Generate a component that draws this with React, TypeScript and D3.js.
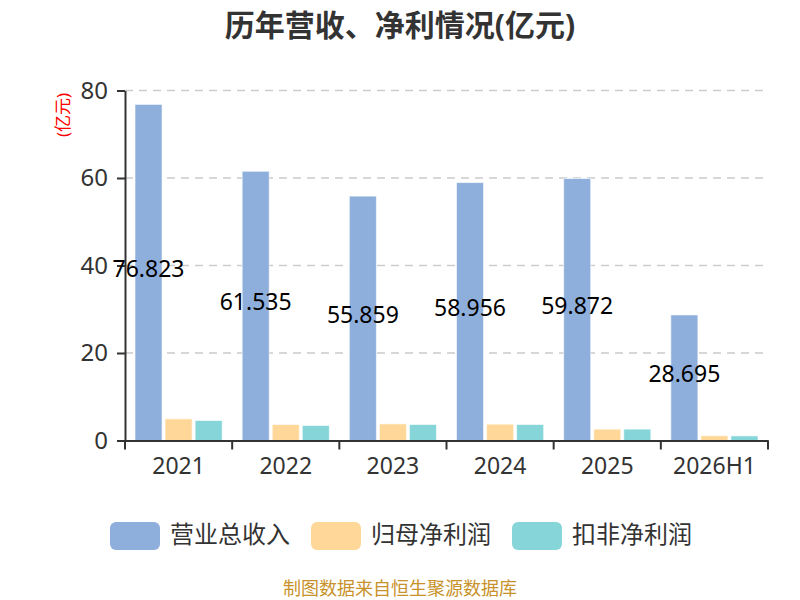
import { useEffect, useRef } from 'react';
import * as d3 from 'd3';

const categories = ['2021', '2022', '2023', '2024', '2025', '2026H1'];
const seriesNames = ['营业总收入', '归母净利润', '扣非净利润'];
const revenue = [76.823, 61.535, 55.859, 58.956, 59.872, 28.695];
const netProfit = [4.96, 3.66, 3.8, 3.73, 2.6, 1.1];
const deductedProfit = [4.57, 3.43, 3.66, 3.66, 2.6, 1.05];
const yTicks = [0, 20, 40, 60, 80];

const COLORS = ['#8eaedb', '#ffd899', '#86d5d8'];
const FONT = '"Noto Sans", "Noto Sans CJK SC", sans-serif';
const WIDTH = 800;
const HEIGHT = 600;

export default function App() {
  const svgRef = useRef<SVGSVGElement>(null);

  useEffect(() => {
    if (!svgRef.current) return;
    const svg = d3.select(svgRef.current);
    svg.selectAll('*').remove();

    const left = 125;
    const right = 768;
    const top = 90.5;
    const bottom = 440.5;

    const x = d3.scaleBand<string>().domain(categories).range([left, right]).padding(0);
    const inner = d3
      .scaleBand<number>()
      .domain([0, 1, 2])
      .range([10, x.bandwidth() - 10])
      .paddingInner(0.1);
    const y = d3.scaleLinear().domain([0, 80]).range([bottom, top]);

    // title
    svg
      .append('text')
      .attr('x', WIDTH / 2)
      .attr('y', 36)
      .attr('text-anchor', 'middle')
      .attr('fill', '#333')
      .style('font-family', FONT)
      .style('font-size', '30px')
      .style('font-weight', '700')
      .text('历年营收、净利情况(亿元)');

    // unit label
    svg
      .append('text')
      .attr('transform', `translate(69, 115) rotate(-90)`)
      .attr('text-anchor', 'middle')
      .attr('fill', '#ff0000')
      .style('font-family', FONT)
      .style('font-size', '17px')
      .text('(亿元)');

    // grid lines
    svg
      .append('g')
      .selectAll('line')
      .data(yTicks.filter((t) => t > 0))
      .join('line')
      .attr('x1', left)
      .attr('x2', right)
      .attr('y1', (d) => y(d))
      .attr('y2', (d) => y(d))
      .attr('stroke', '#ccc')
      .attr('stroke-width', 1.5)
      .attr('stroke-dasharray', '8,6');

    // y axis
    const yAxis = svg
      .append('g')
      .attr('transform', `translate(${left},0)`)
      .call(d3.axisLeft(y).tickValues(yTicks).tickSize(8).tickPadding(9).tickSizeOuter(0));
    yAxis.select('.domain').attr('stroke', '#333').attr('stroke-width', 2);
    yAxis.selectAll('.tick line').attr('stroke', '#333').attr('stroke-width', 2);
    yAxis
      .selectAll('.tick text')
      .attr('fill', '#333')
      .style('font-family', FONT)
      .style('font-size', '24px');

    // bars
    const series = [revenue, netProfit, deductedProfit];
    series.forEach((vals, si) => {
      svg
        .append('g')
        .selectAll('rect')
        .data(vals)
        .join('rect')
        .attr('x', (_, i) => (x(categories[i]) as number) + (inner(si) as number))
        .attr('y', (d) => y(d))
        .attr('width', inner.bandwidth())
        .attr('height', (d) => bottom - y(d))
        .attr('fill', COLORS[si])
        .attr('stroke', 'rgba(255,255,255,0.6)')
        .attr('stroke-width', 1);
    });

    // x axis
    const xAxis = svg
      .append('g')
      .attr('transform', `translate(0,${bottom})`)
      .call(d3.axisBottom(x).tickSize(0));
    xAxis.select('.domain').attr('stroke', '#333').attr('stroke-width', 2);
    xAxis
      .selectAll('.tick text')
      .attr('fill', '#333')
      .attr('y', 33.5)
      .attr('dy', 0)
      .style('font-family', FONT)
      .style('font-size', '23px');
    svg
      .append('g')
      .selectAll('line')
      .data([...categories.map((c) => x(c) as number), right])
      .join('line')
      .attr('x1', (d) => d)
      .attr('x2', (d) => d)
      .attr('y1', bottom)
      .attr('y2', bottom + 9)
      .attr('stroke', '#333')
      .attr('stroke-width', 2);

    // revenue value labels in the middle of the bar
    svg
      .append('g')
      .selectAll('text')
      .data(revenue)
      .join('text')
      .attr('x', (_, i) => (x(categories[i]) as number) + (inner(0) as number) + inner.bandwidth() / 2)
      .attr('y', (d) => (y(d) + bottom) / 2)
      .attr('dy', '0.2em')
      .attr('text-anchor', 'middle')
      .attr('fill', '#000')
      .style('font-family', FONT)
      .style('font-size', '23px')
      .text((d) => d.toFixed(3));

    // legend
    const legendX = [110, 311, 512];
    const legend = svg.append('g');
    seriesNames.forEach((name, i) => {
      legend
        .append('rect')
        .attr('x', legendX[i])
        .attr('y', 522)
        .attr('width', 50)
        .attr('height', 28)
        .attr('rx', 6)
        .attr('fill', COLORS[i]);
      legend
        .append('text')
        .attr('x', legendX[i] + 60)
        .attr('y', 535)
        .attr('dy', '0.35em')
        .attr('fill', '#333')
        .style('font-family', FONT)
        .style('font-size', '24px')
        .text(name);
    });

    // source
    svg
      .append('text')
      .attr('x', WIDTH / 2)
      .attr('y', 595)
      .attr('text-anchor', 'middle')
      .attr('fill', '#c8922a')
      .style('font-family', FONT)
      .style('font-size', '18px')
      .text('制图数据来自恒生聚源数据库');
  }, []);

  return (
    <svg
      ref={svgRef}
      width={WIDTH}
      height={HEIGHT}
      style={{ position: 'absolute', left: 0, top: 0, background: '#fff' }}
    />
  );
}
